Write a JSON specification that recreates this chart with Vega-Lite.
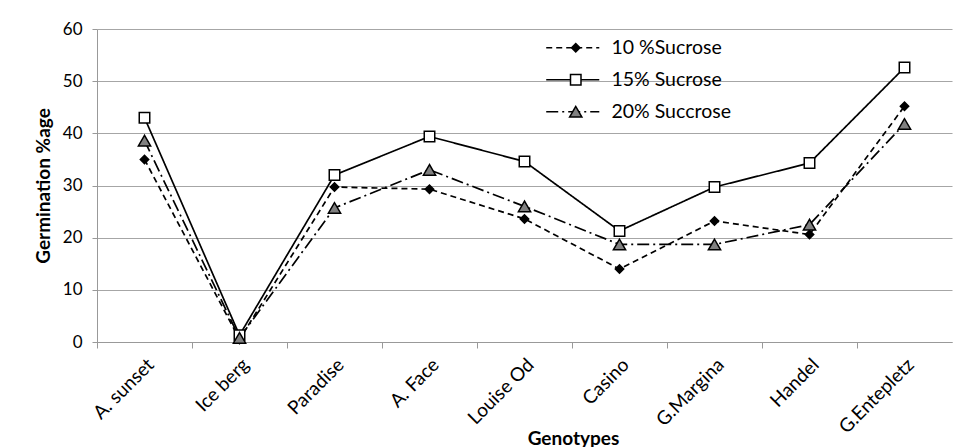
{
  "$schema": "https://vega.github.io/schema/vega-lite/v6.json",
  "width": 855,
  "height": 313,
  "autosize": "none",
  "padding": {"left": 97, "top": 29, "right": 3, "bottom": 105},
  "background": "white",
  "config": {"font": "Lato", "view": {"stroke": null}},
  "data": {
    "values": [
      {"genotype": "A. sunset", "series": "10 %Sucrose", "value": 35},
      {"genotype": "Ice berg", "series": "10 %Sucrose", "value": 0.5},
      {"genotype": "Paradise", "series": "10 %Sucrose", "value": 29.7},
      {"genotype": "A. Face", "series": "10 %Sucrose", "value": 29.3},
      {"genotype": "Louise Od", "series": "10 %Sucrose", "value": 23.6},
      {"genotype": "Casino", "series": "10 %Sucrose", "value": 14},
      {"genotype": "G.Margina", "series": "10 %Sucrose", "value": 23.2},
      {"genotype": "Handel", "series": "10 %Sucrose", "value": 20.6},
      {"genotype": "G.Entepletz", "series": "10 %Sucrose", "value": 45.2},
      {"genotype": "A. sunset", "series": "15% Sucrose", "value": 43},
      {"genotype": "Ice berg", "series": "15% Sucrose", "value": 1.3},
      {"genotype": "Paradise", "series": "15% Sucrose", "value": 32},
      {"genotype": "A. Face", "series": "15% Sucrose", "value": 39.4},
      {"genotype": "Louise Od", "series": "15% Sucrose", "value": 34.6},
      {"genotype": "Casino", "series": "15% Sucrose", "value": 21.3},
      {"genotype": "G.Margina", "series": "15% Sucrose", "value": 29.7},
      {"genotype": "Handel", "series": "15% Sucrose", "value": 34.3},
      {"genotype": "G.Entepletz", "series": "15% Sucrose", "value": 52.6},
      {"genotype": "A. sunset", "series": "20% Succrose", "value": 38.6},
      {"genotype": "Ice berg", "series": "20% Succrose", "value": 0.8},
      {"genotype": "Paradise", "series": "20% Succrose", "value": 25.7},
      {"genotype": "A. Face", "series": "20% Succrose", "value": 33},
      {"genotype": "Louise Od", "series": "20% Succrose", "value": 26},
      {"genotype": "Casino", "series": "20% Succrose", "value": 18.7},
      {"genotype": "G.Margina", "series": "20% Succrose", "value": 18.7},
      {"genotype": "Handel", "series": "20% Succrose", "value": 22.5},
      {"genotype": "G.Entepletz", "series": "20% Succrose", "value": 41.8}
    ]
  },
  "encoding": {
    "y": {
      "field": "value",
      "type": "quantitative",
      "scale": {"domain": [0, 60], "nice": false},
      "axis": {
        "values": [0, 10, 20, 30, 40, 50, 60],
        "title": "Germination %age",
        "titleFontSize": 19,
        "titleFontWeight": "bold",
        "titleColor": "black",
        "titlePadding": 9,
        "labelFontSize": 17,
        "labelColor": "black",
        "labelPadding": 10,
        "domainColor": "#999999",
        "tickColor": "#999999",
        "tickSize": 5,
        "gridColor": "#a6a6a6",
        "gridWidth": 1.2,
        "grid": true
      }
    }
  },
  "layer": [
    {
      "mark": {"type": "line", "color": "black", "strokeWidth": 1.7},
      "encoding": {
        "x": {
          "field": "genotype",
          "type": "nominal",
          "sort": ["A. sunset", "Ice berg", "Paradise", "A. Face", "Louise Od", "Casino", "G.Margina", "Handel", "G.Entepletz"],
          "scale": {"type": "band", "paddingInner": 0, "paddingOuter": 0},
          "axis": {
            "orient": "bottom",
            "bandPosition": 0,
            "labels": false,
            "title": null,
            "domainColor": "#999999",
            "tickColor": "#999999",
            "tickSize": 6,
            "grid": false
          }
        },
        "strokeDash": {
          "field": "series",
          "type": "nominal",
          "scale": {"domain": ["10 %Sucrose", "15% Sucrose", "20% Succrose"], "range": [[6, 4], [1, 0], [12, 4, 2, 4]]},
          "legend": {
            "orient": "none",
            "legendX": 466,
            "legendY": 9,
            "title": null,
            "symbolType": "M-4,0H4",
            "symbolSize": 176,
            "symbolFillColor": "transparent",
            "symbolStrokeColor": "black",
            "symbolStrokeWidth": 1.7,
            "labelFontSize": 19.5,
            "labelColor": "black",
            "labelOffset": 29,
            "rowPadding": 11
          }
        }
      }
    },
    {
      "mark": {"type": "point", "filled": true, "stroke": "black", "strokeWidth": 1.5, "opacity": 1},
      "encoding": {
        "x": {
          "field": "genotype",
          "type": "nominal",
          "sort": ["A. sunset", "Ice berg", "Paradise", "A. Face", "Louise Od", "Casino", "G.Margina", "Handel", "G.Entepletz"],
          "axis": {
            "orient": "bottom",
            "labelAngle": -45,
            "labelFontSize": 19,
            "labelColor": "black",
            "labelPadding": 13,
            "ticks": false,
            "domain": false,
            "grid": false,
            "title": "Genotypes",
            "titleFontSize": 19,
            "titleFontWeight": "bold",
            "titleColor": "black",
            "titleX": 476,
            "titleY": 102,
            "titleBaseline": "alphabetic",
            "titleAnchor": "middle",
            "titleAlign": "center"
          }
        },
        "shape": {
          "field": "series",
          "type": "nominal",
          "scale": {"domain": ["10 %Sucrose", "15% Sucrose", "20% Succrose"], "range": ["diamond", "square", "triangle-up"]},
          "legend": {
            "orient": "none",
            "legendX": 469,
            "legendY": 9,
            "title": null,
            "labelExpr": "''",
            "labelFontSize": 19.5,
            "rowPadding": 11
          }
        },
        "fill": {
          "field": "series",
          "type": "nominal",
          "scale": {"domain": ["10 %Sucrose", "15% Sucrose", "20% Succrose"], "range": ["black", "white", "#808080"]}
        },
        "size": {
          "field": "series",
          "type": "nominal",
          "scale": {"domain": ["10 %Sucrose", "15% Sucrose", "20% Succrose"], "range": [70, 150, 90]}
        }
      }
    }
  ],
  "resolve": {
    "axis": {"x": "independent"},
    "legend": {"strokeDash": "independent", "shape": "independent", "fill": "independent", "size": "independent"}
  }
}
